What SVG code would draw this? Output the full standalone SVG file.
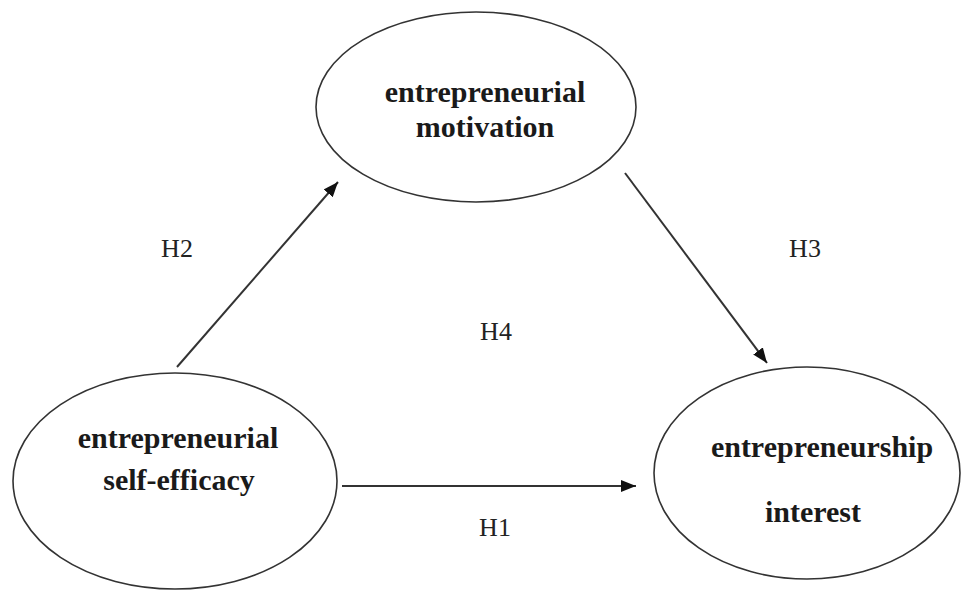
<svg xmlns="http://www.w3.org/2000/svg" width="962" height="592" viewBox="0 0 962 592">
<style>
.node ellipse{fill:#fff;stroke:#333;stroke-width:1.6}
.nt{font-family:"Liberation Serif",serif;font-weight:bold;font-size:30px;fill:#1a1a1a;text-anchor:middle}
.lb{font-family:"Liberation Serif",serif;font-size:26px;fill:#222;text-anchor:middle}
.cn line{stroke:#333;stroke-width:2}
</style>
<defs>
<marker id="ah" viewBox="0 0 10 10" refX="10" refY="5" markerWidth="15" markerHeight="12" markerUnits="userSpaceOnUse" orient="auto" preserveAspectRatio="none">
<path d="M0,0 L10,5 L0,10 z" fill="#111"/>
</marker>
</defs>
<rect width="962" height="592" fill="#fff"/>
<g id="motivation" class="node">
<ellipse cx="476" cy="107" rx="160" ry="95"/>
<text class="nt" x="485" y="102">entrepreneurial</text>
<text class="nt" x="485" y="137">motivation</text>
</g>
<g id="selfefficacy" class="node">
<ellipse cx="175" cy="481" rx="162" ry="108"/>
<text class="nt" x="178" y="448">entrepreneurial</text>
<text class="nt" x="179" y="490">self-efficacy</text>
</g>
<g id="interest" class="node">
<ellipse cx="807" cy="473" rx="153" ry="106"/>
<text class="nt" x="822" y="457">entrepreneurship</text>
<text class="nt" x="813" y="522">interest</text>
</g>
<g id="connectors" class="cn">
<line x1="177" y1="367" x2="338" y2="182" marker-end="url(#ah)"/>
<line x1="625" y1="173" x2="767" y2="363" marker-end="url(#ah)"/>
<line x1="342" y1="486" x2="636" y2="486" marker-end="url(#ah)"/>
</g>
<g id="labels">
<text class="lb" x="177" y="257">H2</text>
<text class="lb" x="805" y="257">H3</text>
<text class="lb" x="496" y="340">H4</text>
<text class="lb" x="495" y="536">H1</text>
</g>
</svg>
